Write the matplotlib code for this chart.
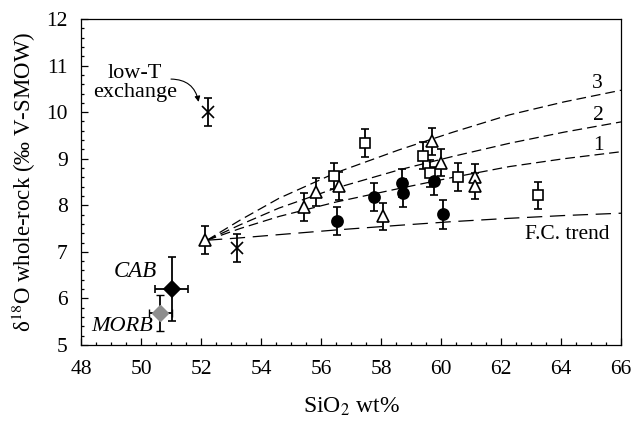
import matplotlib
matplotlib.use('Agg')
import matplotlib.pyplot as plt
from matplotlib.ticker import MultipleLocator

# Data
tri_x = [52.13, 55.43, 55.82, 56.60, 58.08, 59.71, 59.99, 61.13, 61.13]
tri_y = [7.25, 7.97, 8.29, 8.42, 7.76, 9.38, 8.91, 8.61, 8.41]
tri_err = [0.30, 0.30, 0.30, 0.30, 0.29, 0.29, 0.29, 0.28, 0.28]

sq_x = [56.43, 57.46, 59.41, 59.62, 60.58, 63.24]
sq_y = [8.63, 9.33, 9.06, 8.69, 8.61, 8.22]
sq_err = [0.27, 0.30, 0.29, 0.29, 0.30, 0.29]

dot_x = [56.54, 57.77, 58.71, 58.74, 59.77, 60.08]
dot_y = [7.67, 8.17, 8.47, 8.26, 8.53, 7.81]
dot_err = [0.30, 0.30, 0.30, 0.30, 0.30, 0.31]

cross_x = [52.22, 53.19]
cross_y = [10.00, 7.08]
cross_err = [0.30, 0.30]

cab = dict(x=51.02, y=6.20, xerr=0.55, yerr=0.68)
morb = dict(x=50.64, y=5.69, xerr=0.38, yerr=0.38)

# model curves (1, 2, 3) and fractional crystallisation trend
curve_x = [52.2, 53.3, 54.6, 56.5, 58.6, 60.4, 62.27, 64.1, 66.0]
curve_1 = [7.25, 7.50, 7.76, 8.07, 8.36, 8.60, 8.83, 9.00, 9.15]
curve_2 = [7.25, 7.58, 7.94, 8.37, 8.76, 9.05, 9.33, 9.57, 9.79]
curve_3 = [7.25, 7.68, 8.15, 8.70, 9.19, 9.57, 9.94, 10.22, 10.47]
fc_trend = [7.25, 7.30, 7.37, 7.47, 7.57, 7.65, 7.72, 7.78, 7.83]

plt.rcParams['font.family'] = ['Liberation Serif', 'DejaVu Serif']
plt.rcParams['mathtext.fontset'] = 'stix'
plt.rcParams['lines.scale_dashes'] = False

fig = plt.figure(figsize=(6.33, 4.21), dpi=100)
ax = fig.add_axes([81 / 633, 1 - 345 / 421, 540 / 633, 326 / 421])

# curves
for cy in (curve_1, curve_2, curve_3):
    ax.plot(curve_x, cy, color='k', lw=0.9, dashes=(7, 3.6), zorder=1)
ax.plot(curve_x, fc_trend, color='k', lw=0.9, dashes=(11, 5.5), zorder=1)

eb = dict(ecolor='k', elinewidth=1.3, capsize=3, capthick=1.3, mec='k', mew=1.2, ls='none', zorder=3)
ax.errorbar(tri_x, tri_y, yerr=tri_err, fmt='^', mfc='white', ms=8.5, **eb)
ax.errorbar(sq_x, sq_y, yerr=sq_err, fmt='s', mfc='white', ms=7, **eb)
ax.errorbar(dot_x, dot_y, yerr=dot_err, fmt='o', mfc='k', ms=8, **eb)
ax.errorbar(cross_x, cross_y, yerr=cross_err, fmt='x', ms=8, **eb)
ax.errorbar(cab['x'], cab['y'], xerr=cab['xerr'], yerr=cab['yerr'], fmt='D', mfc='k', ms=8, **eb)
ax.errorbar(morb['x'], morb['y'], xerr=morb['xerr'], yerr=morb['yerr'], fmt='D',
            mfc='#8e8e8e', ms=8, ecolor='k', elinewidth=1.3, capsize=3, capthick=1.3,
            mec='#8e8e8e', mew=1.0, ls='none', zorder=2)

# annotations
ax.text(49.8, 10.62, 'low-T\nexchange', ha='center', va='center', fontsize=16, linespacing=1.0)
ax.annotate('', xy=(51.92, 10.22), xytext=(51.0, 10.71),
            arrowprops=dict(arrowstyle='-|>', connectionstyle='arc3,rad=-0.4',
                            color='k', lw=0.8, mutation_scale=8, shrinkA=0, shrinkB=0))
ax.text(49.8, 6.57, 'CAB', ha='center', va='center', fontsize=16.5, style='italic')
ax.text(49.36, 5.39, 'MORB', ha='center', va='center', fontsize=16, style='italic')
ax.text(65.2, 10.62, '3', ha='center', va='center', fontsize=15.5)
ax.text(65.23, 9.92, '2', ha='center', va='center', fontsize=15.5)
ax.text(65.24, 9.29, '1', ha='center', va='center', fontsize=15.5)
ax.text(64.22, 7.38, 'F.C. trend', ha='center', va='center', fontsize=15.5)

ax.set_xlim(48, 66)
ax.set_ylim(5, 12)
ax.xaxis.set_major_locator(MultipleLocator(2))
ax.xaxis.set_minor_locator(MultipleLocator(0.5))
ax.yaxis.set_major_locator(MultipleLocator(1))
ax.yaxis.set_minor_locator(MultipleLocator(0.2))
ax.tick_params(which='both', direction='in', top=False, right=False, width=0.9, labelsize=15.5)
ax.tick_params(axis='x', which='both', pad=11)
ax.tick_params(axis='y', which='both', pad=9.5)
ax.tick_params(which='major', length=5)
ax.tick_params(which='minor', length=2.5)
for s in ax.spines.values():
    s.set_linewidth(0.9)

ax.set_xlabel('SiO$_2$ wt%', fontsize=17, labelpad=12)
ax.set_ylabel('δ$^{18}$O whole-rock (‰ V-SMOW)', fontsize=16.5, labelpad=6)

fig.savefig('out.png', dpi=100)
